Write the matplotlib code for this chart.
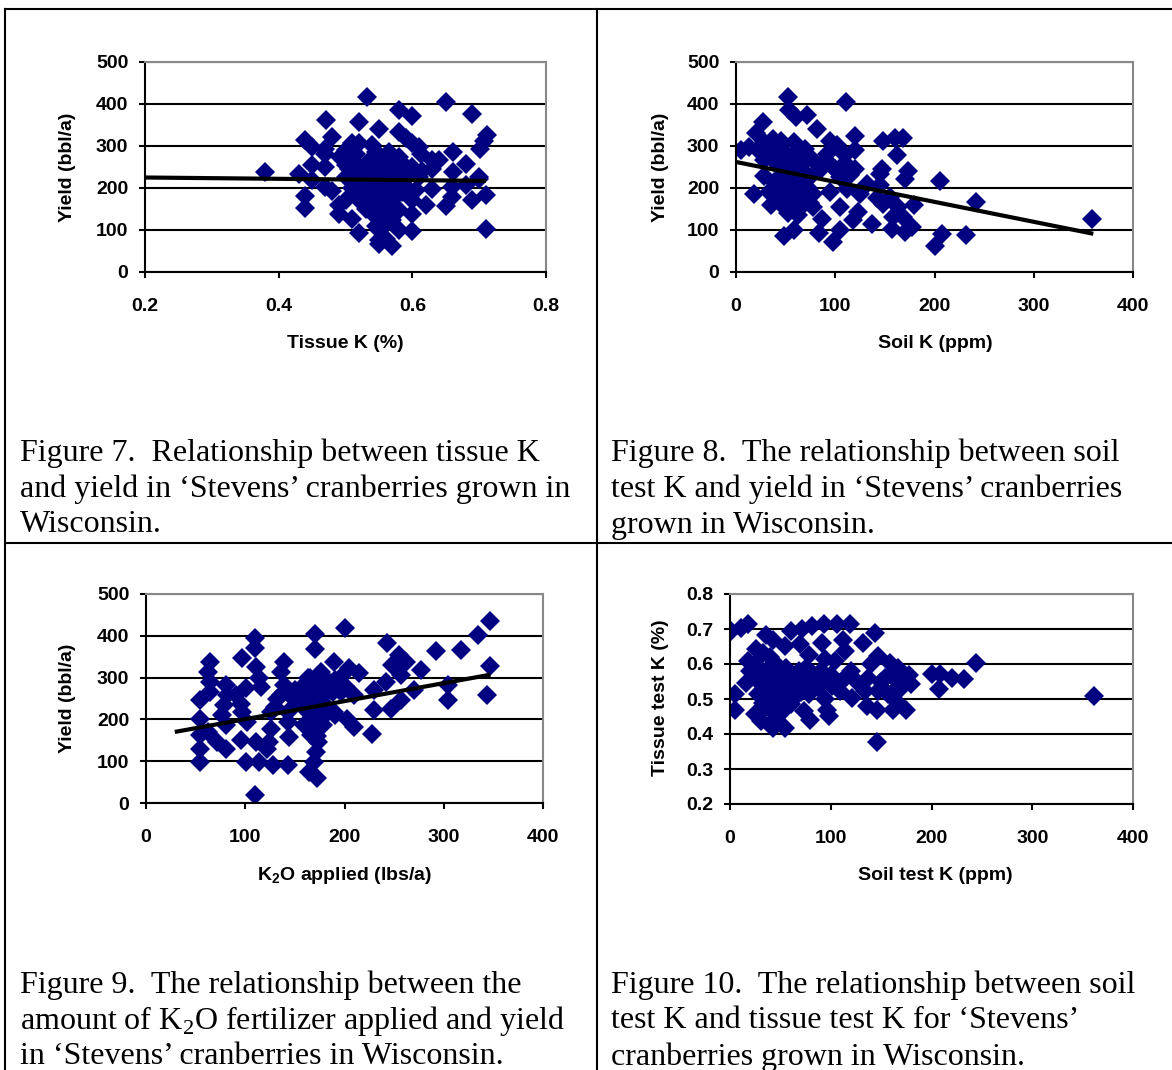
import numpy as np
import matplotlib.pyplot as plt
from matplotlib.lines import Line2D

plt.rcParams['mathtext.fontset'] = 'custom'
plt.rcParams['mathtext.rm'] = 'Liberation Serif'
plt.rcParams['mathtext.bf'] = 'Liberation Sans:bold'

# ---- data ----
# Figure 7: tissue K (%) vs yield (bbl/a)
tissue_k = [0.38, 0.5315, 0.65, 0.689, 0.711, 0.7075, 0.701, 0.58, 0.60, 0.471, 0.52, 0.55,
            0.48, 0.44, 0.45, 0.47, 0.47, 0.51, 0.52, 0.54, 0.58, 0.59, 0.60, 0.61, 0.6125,
            0.63, 0.64, 0.661, 0.63, 0.68, 0.661, 0.45, 0.47, 0.43, 0.45, 0.47, 0.48, 0.4925,
            0.50, 0.51, 0.56, 0.58, 0.57, 0.56, 0.54, 0.52, 0.50, 0.52, 0.54, 0.55, 0.57,
            0.59, 0.60, 0.61, 0.59, 0.63, 0.66, 0.68, 0.70, 0.66, 0.69, 0.71, 0.65, 0.62,
            0.60, 0.60, 0.58, 0.56, 0.54, 0.52, 0.50, 0.49, 0.49, 0.51, 0.55, 0.56, 0.57,
            0.58, 0.60, 0.52, 0.55, 0.55, 0.56, 0.57, 0.55, 0.44, 0.44, 0.71, 0.70,
            0.53, 0.55, 0.57, 0.51, 0.53, 0.56, 0.58, 0.54, 0.53,
            0.50, 0.505, 0.515, 0.525, 0.535, 0.545, 0.555, 0.565, 0.575, 0.585, 0.595,
            0.545, 0.555, 0.565, 0.575, 0.585, 0.535, 0.545, 0.555, 0.565, 0.575, 0.525,
            0.515, 0.535, 0.565, 0.585, 0.605, 0.615, 0.545, 0.555]
yield7 = [238, 417, 405, 375, 327, 313, 292, 385, 371, 363, 356, 340,
          321, 315, 298, 294, 282, 306, 306, 302, 333, 320, 306, 298, 282,
          266, 266, 286, 246, 258, 238, 254, 250, 234, 218, 202, 194, 274,
          254, 266, 274, 274, 258, 246, 242, 242, 226, 210, 210, 194, 218,
          234, 250, 226, 202, 198, 202, 206, 222, 178, 171, 184, 157, 159,
          171, 139, 147, 163, 171, 186, 171, 159, 139, 127, 127, 115, 123,
          99, 97, 94, 99, 75, 79, 61, 67, 181, 152, 102, 226,
          230, 260, 230, 200, 180, 190, 250, 140, 150,
          290, 245, 280, 225, 265, 285, 265, 285, 255, 260, 240,
          230, 215, 235, 205, 215, 195, 175, 185, 165, 180, 165,
          215, 150, 140, 190, 195, 240, 110, 145]
trend7_x = [0.2, 0.71]
trend7_y = [225, 217]

# Figure 8: soil K (ppm) vs yield (bbl/a)
soil_k8 = [52, 111, 53, 60, 72, 27, 82, 20, 120, 148, 160, 168, 5, 13, 28, 37, 45, 58, 70,
           95, 102, 120, 92, 110, 162, 28, 42, 53, 67, 77, 85, 98, 120, 147, 145, 173, 170,
           206, 28, 45, 58, 75, 105, 132, 145, 18, 33, 48, 62, 78, 95, 112, 125, 142, 155,
           35, 48, 62, 78, 105, 123, 148, 163, 179, 242, 87, 118, 137, 158, 168, 177, 157,
           170, 58, 48, 84, 105, 98, 208, 232, 200, 359, 67, 55, 42, 22, 62,
           35, 40, 45, 50, 55, 60, 65, 70, 38, 43, 48, 53, 58, 63, 68, 73, 40, 50, 60, 70,
           45, 55, 65, 75, 52, 62, 90, 100, 110, 115]
yield8 = [417, 405, 385, 369, 373, 356, 340, 331, 324, 311, 320, 320, 290, 298, 310, 317,
          313, 310, 294, 313, 302, 290, 282, 278, 279, 266, 274, 270, 262, 270, 242, 250,
          246, 246, 234, 240, 221, 216, 228, 226, 234, 226, 226, 210, 206, 186, 190, 194,
          202, 186, 190, 198, 186, 175, 179, 159, 155, 147, 155, 155, 143, 163, 155, 160,
          167, 127, 123, 115, 131, 131, 107, 103, 95, 99, 85, 93, 101, 71, 91, 87, 62,
          125, 167, 167, 290, 290, 290,
          280, 260, 245, 280, 255, 240, 255, 235, 215, 205, 230, 215, 225, 205, 215, 200,
          185, 180, 175, 180, 165, 160, 170, 165, 140, 135, 265, 245, 260, 230]
trend8_x = [0, 360]
trend8_y = [262, 91]

# Figure 9: K2O applied (lbs/a) vs yield (bbl/a)
k2o = [347, 335, 317, 292, 347, 344, 304, 304, 277, 270, 243, 255, 262, 248, 257, 242, 257,
       247, 230, 230, 228, 201, 170, 170, 189, 205, 215, 196, 176, 163, 159, 169, 183, 196,
       210, 163, 176, 189, 203, 210, 163, 159, 166, 173, 171, 169, 164, 172, 178, 110, 110,
       97, 111, 114, 116, 101, 96, 97, 102, 96, 101, 114, 110, 111, 122, 128, 143, 126, 126,
       124, 139, 136, 139, 136, 143, 143, 144, 149, 64, 62, 64, 64, 54, 81, 82, 79, 77, 81,
       54, 54, 62, 54, 54, 72, 81, 91, 175, 185, 180, 168, 190, 172,
       165, 170, 175, 180, 185, 190, 195, 200, 168, 172, 178, 182, 188, 166, 170, 174,
       178, 182, 168, 172, 176, 180, 170, 174, 168, 172, 130, 132, 150, 155]
yield9 = [435, 402, 366, 364, 327, 258, 246, 282, 318, 270, 383, 354, 338, 330, 306, 290,
          246, 226, 270, 222, 165, 418, 404, 368, 338, 322, 310, 302, 314, 298, 282, 274,
          282, 266, 258, 258, 242, 218, 202, 182, 218, 186, 162, 146, 122, 98, 74, 61, 186,
          394, 370, 346, 326, 298, 278, 276, 238, 218, 194, 150, 98, 98, 18, 146, 130, 90,
          90, 218, 178, 146, 338, 314, 282, 258, 218, 194, 158, 250, 338, 314, 290, 266,
          246, 282, 258, 234, 210, 186, 202, 162, 170, 130, 98, 146, 130, 258, 290, 270,
          230, 250, 210, 200,
          300, 290, 280, 300, 285, 295, 275, 280, 265, 270, 260, 275, 265, 245, 250, 245,
          240, 230, 225, 220, 205, 210, 195, 180, 170, 160, 230, 250, 270, 240]
trend9_x = [29, 347]
trend9_y = [170, 307]

# Figure 10: soil test K (ppm) vs tissue test K (%)
soil_k10 = [1, 11, 18, 5, 5, 361, 244, 232, 220, 208, 200, 207, 146, 144, 132, 119, 106,
            93, 81, 71, 61, 91, 36, 43, 55, 26, 33, 69, 78, 112, 114, 94, 104, 147, 140,
            159, 167, 178, 180, 167, 154, 137, 127, 114, 94, 81, 68, 55, 41, 25, 20, 16,
            28, 38, 50, 61, 74, 88, 101, 109, 121, 134, 147, 157, 170, 28, 38, 51, 64, 78,
            94, 35, 48, 61, 73, 25, 31, 43, 55, 45, 79, 98, 96, 136, 146, 162, 175, 167, 18,
            30, 35, 40, 45, 50, 55, 60, 33, 38, 43, 48, 53, 58, 36, 41, 46, 51, 56, 40, 45,
            65, 70, 75, 85, 90, 100, 110, 120, 150, 160, 165, 172]
tissue_k10 = [0.694, 0.703, 0.713, 0.513, 0.47, 0.51, 0.602, 0.558, 0.56, 0.572, 0.572,
              0.528, 0.378, 0.689, 0.659, 0.713, 0.713, 0.715, 0.708, 0.699, 0.694, 0.66,
              0.684, 0.67, 0.651, 0.642, 0.632, 0.656, 0.627, 0.67, 0.637, 0.613, 0.608,
              0.623, 0.599, 0.604, 0.589, 0.57, 0.542, 0.551, 0.56, 0.56, 0.547, 0.56, 0.57,
              0.575, 0.58, 0.585, 0.589, 0.599, 0.58, 0.547, 0.551, 0.551, 0.542, 0.547,
              0.542, 0.532, 0.537, 0.523, 0.504, 0.523, 0.523, 0.513, 0.532, 0.513, 0.504,
              0.513, 0.504, 0.513, 0.499, 0.475, 0.48, 0.485, 0.466, 0.456, 0.437, 0.418,
              0.418, 0.442, 0.44, 0.452, 0.47, 0.48, 0.469, 0.47, 0.47, 0.49, 0.608,
              0.56, 0.53, 0.57, 0.52, 0.56, 0.53, 0.57, 0.49, 0.545, 0.5, 0.565, 0.49, 0.52,
              0.58, 0.47, 0.6, 0.46, 0.59, 0.62, 0.5,
              0.56, 0.52, 0.59, 0.56, 0.58, 0.57, 0.55, 0.58, 0.55, 0.57, 0.53, 0.56]

captions = [
    ["Figure 7.  Relationship between tissue K",
     "and yield in \u2018Stevens\u2019 cranberries grown in",
     "Wisconsin."],
    ["Figure 8.  The relationship between soil",
     "test K and yield in \u2018Stevens\u2019 cranberries",
     "grown in Wisconsin."],
    ["Figure 9.  The relationship between the",
     "amount of K$_{\\mathrm{2}}$O fertilizer applied and yield",
     "in \u2018Stevens\u2019 cranberries in Wisconsin."],
    ["Figure 10.  The relationship between soil",
     "test K and tissue test K for \u2018Stevens\u2019",
     "cranberries grown in Wisconsin."],
]

W, H = 1172, 1070
fig = plt.figure(figsize=(W / 100, H / 100), dpi=100)

def px(x0, y0, x1, y1):
    return [x0 / W, 1 - y1 / H, (x1 - x0) / W, (y1 - y0) / H]

sans = 'Liberation Sans'
serif = 'Liberation Serif'
navy = '#000080'
fs = 14

def setup(ax, xlim, ylim, xticks, yticks, xfmt, yfmt):
    ax.set_xlim(xlim)
    ax.set_ylim(ylim)
    ax.set_xticks(xticks)
    ax.set_yticks(yticks)
    ax.set_xticklabels([xfmt.format(v) for v in xticks])
    ax.set_yticklabels([yfmt.format(v) for v in yticks])
    for lab in ax.get_xticklabels() + ax.get_yticklabels():
        lab.set_fontfamily(sans)
        lab.set_fontweight('bold')
        lab.set_fontsize(fs)
    ax.tick_params(axis='x', direction='out', length=4, width=1.5, pad=15)
    ax.tick_params(axis='y', direction='out', length=4, width=1.5, pad=8)
    ax.yaxis.grid(True, color='black', linewidth=1.5)
    ax.set_axisbelow(True)
    for s in ['top', 'right']:
        ax.spines[s].set_color('#888888')
        ax.spines[s].set_linewidth(1.5)
    for s in ['left', 'bottom']:
        ax.spines[s].set_color('black')
        ax.spines[s].set_linewidth(1.5)

mk = dict(marker='D', linestyle='none', color=navy, markersize=10, markeredgewidth=0)
tl = dict(color='black', linewidth=3, solid_capstyle='butt')

ax1 = fig.add_axes(px(145, 62, 546, 272))
setup(ax1, (0.2, 0.8), (0, 500), [0.2, 0.4, 0.6, 0.8], range(0, 501, 100), '{:.1f}', '{:d}')
ax1.plot(tissue_k, yield7, **mk)
ax1.plot(trend7_x, trend7_y, **tl)

ax2 = fig.add_axes(px(736, 62, 1133, 272))
setup(ax2, (0, 400), (0, 500), range(0, 401, 100), range(0, 501, 100), '{:d}', '{:d}')
ax2.plot(soil_k8, yield8, **mk)
ax2.plot(trend8_x, trend8_y, **tl)

ax3 = fig.add_axes(px(146, 594, 543, 803))
setup(ax3, (0, 400), (0, 500), range(0, 401, 100), range(0, 501, 100), '{:d}', '{:d}')
ax3.plot(k2o, yield9, **mk)
ax3.plot(trend9_x, trend9_y, **tl)

ax4 = fig.add_axes(px(730, 594, 1133, 804))
setup(ax4, (0, 400), (0.2, 0.8), range(0, 401, 100), [0.2, 0.3, 0.4, 0.5, 0.6, 0.7, 0.8],
      '{:d}', '{:.1f}')
ax4.plot(soil_k10, tissue_k10, **mk)

lab = dict(fontfamily=sans, fontweight='bold', fontsize=fs, ha='center', va='center')
fig.text(345 / W, 1 - 343 / H, 'Tissue K (%)', **lab)
fig.text(935 / W, 1 - 343 / H, 'Soil K (ppm)', **lab)
fig.text(345 / W, 1 - 875 / H, r'K$_\mathbf{2}$O applied (lbs/a)', **lab)
fig.text(935 / W, 1 - 875 / H, 'Soil test K (ppm)', **lab)
fig.text(68 / W, 1 - 167 / H, 'Yield (bbl/a)', rotation=90, **lab)
fig.text(660 / W, 1 - 167 / H, 'Yield (bbl/a)', rotation=90, **lab)
fig.text(68 / W, 1 - 698 / H, 'Yield (bbl/a)', rotation=90, **lab)
fig.text(660 / W, 1 - 698 / H, 'Tissue test K (%)', rotation=90, **lab)

# captions
cap_pos = [(20, 453), (611, 453), (20, 985), (611, 985)]
for (cx, cy), lines in zip(cap_pos, captions):
    for i, line in enumerate(lines):
        fig.text(cx / W, 1 - (cy + 36 * i) / H, line, fontfamily=serif, fontsize=23,
                 ha='left', va='center')

# table borders
def hline(y, x0, x1):
    fig.add_artist(Line2D([x0 / W, x1 / W], [1 - y / H, 1 - y / H], color='black', linewidth=1.5))

def vline(x, y0, y1):
    fig.add_artist(Line2D([x / W, x / W], [1 - y0 / H, 1 - y1 / H], color='black', linewidth=1.5))

hline(9, 5, W)
hline(543, 5, W)
vline(5, 9, H)
vline(597, 9, H)

fig.savefig('out.png', dpi=100)
